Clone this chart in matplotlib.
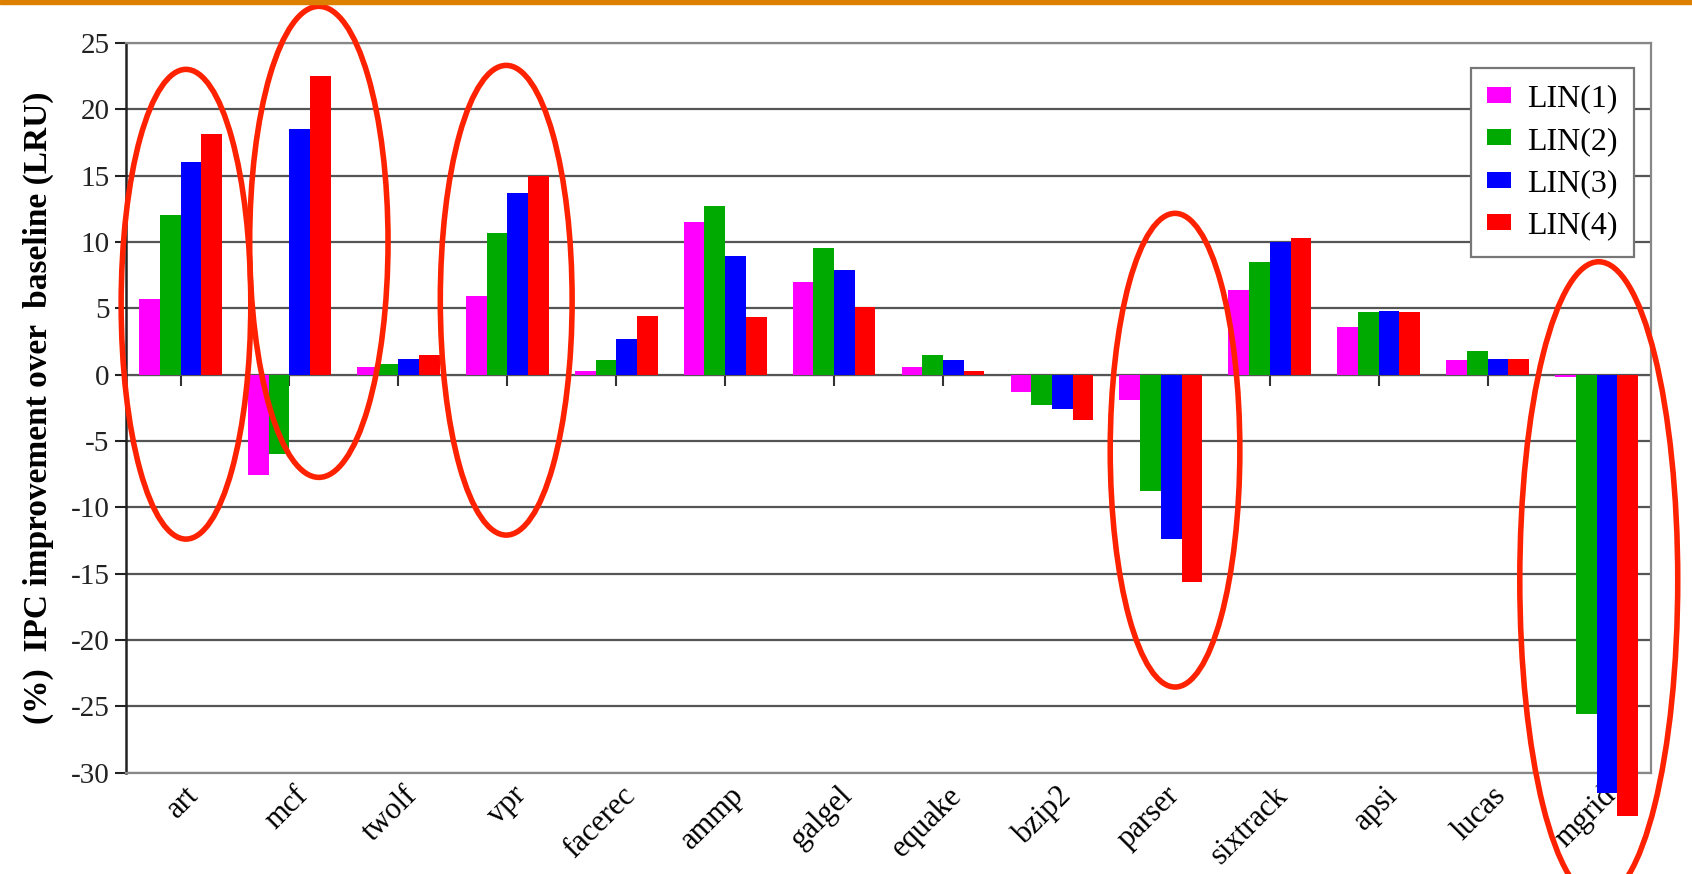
import numpy as np
import matplotlib
matplotlib.use('Agg')
import matplotlib.pyplot as plt
import matplotlib.transforms as mtransforms
from matplotlib.patches import Ellipse, Rectangle

benchmarks = ["art", "mcf", "twolf", "vpr", "facerec", "ammp", "galgel",
              "equake", "bzip2", "parser", "sixtrack", "apsi", "lucas", "mgrid"]
lin1 = [5.7, -7.6, 0.6, 5.9, 0.3, 11.5, 7.0, 0.6, -1.3, -1.9, 6.4, 3.6, 1.1, -0.2]
lin2 = [12.0, -6.0, 0.8, 10.7, 1.1, 12.7, 9.5, 1.5, -2.3, -8.8, 8.5, 4.7, 1.8, -25.6]
lin3 = [16.0, 18.5, 1.2, 13.7, 2.7, 8.9, 7.9, 1.1, -2.6, -12.4, 10.0, 4.8, 1.2, -31.5]
lin4 = [18.1, 22.5, 1.5, 15.0, 4.4, 4.3, 5.1, 0.3, -3.4, -15.6, 10.3, 4.7, 1.2, -33.3]
series = [("LIN(1)", lin1), ("LIN(2)", lin2), ("LIN(3)", lin3), ("LIN(4)", lin4)]
colors = ["#ff00ff", "#00aa00", "#0000ff", "#ff0000"]

# red circles drawn on the slide: (x centre, y centre, width, height)
circles = [(0.05, 5.3, 1.19, 35.4), (1.27, 10.0, 1.27, 35.5),
           (2.99, 5.6, 1.21, 35.4), (9.13, -5.7, 1.19, 35.7),
           (13.02, -15.5, 1.45, 48.0)]

plt.rcParams['font.family'] = ["Liberation Serif", "DejaVu Serif"]
plt.rcParams['axes.unicode_minus'] = False

fig = plt.figure(figsize=(16.92, 8.74), dpi=100)
ax = fig.add_axes([0.0745, 0.116, 0.9013, 0.835])

x = np.arange(len(benchmarks))
w = 0.19
for i, ((name, vals), c) in enumerate(zip(series, colors)):
    ax.bar(x + (i - 1.5) * w, vals, w, color=c, label=name, clip_on=False,
           zorder=3, linewidth=0)

ax.set_xlim(-0.5, len(benchmarks) - 0.5)
ax.set_ylim(-30, 25)
ax.set_yticks(np.arange(-30, 26, 5))
ax.yaxis.grid(True, color="#555555", linewidth=1.6, zorder=0)
ax.set_axisbelow(True)
ax.tick_params(axis='y', direction='out', length=8, width=1.5,
               labelsize=21, colors="#222222", pad=4)
ax.set_xticks(x)
ax.set_xticklabels(benchmarks, rotation=45, ha='right', rotation_mode='anchor',
                   fontsize=22)
ax.tick_params(axis='x', length=0, pad=6)
shift = mtransforms.ScaledTranslation(0.04, 0, fig.dpi_scale_trans)
for lab in ax.get_xticklabels():
    lab.set_transform(lab.get_transform() + shift)

for s in ["top", "right", "bottom"]:
    ax.spines[s].set_color("#888888")
    ax.spines[s].set_linewidth(1.6)
ax.spines["left"].set_color("#222222")
ax.spines["left"].set_linewidth(1.8)

# zero axis with ticks at category centres
sec = ax.secondary_xaxis(30 / 55)
sec.set_xticks(x)
sec.xaxis.set_ticks_position('bottom')
sec.set_xticklabels([])
sec.tick_params(axis='x', direction='out', length=8, width=1.5,
                colors="#333333")
sec.spines["bottom"].set_color("#333333")
sec.spines["bottom"].set_linewidth(2)

ax.set_ylabel("(%)  IPC improvement over  baseline (LRU)", fontsize=24,
              fontweight='bold', labelpad=12)

leg = ax.legend(loc='upper right', bbox_to_anchor=(0.9885, 0.965), fontsize=23,
                fancybox=False, edgecolor="#777777", framealpha=1,
                handlelength=0.75, handleheight=0.4, handletextpad=0.5,
                labelspacing=0.42, borderpad=0.5, borderaxespad=0)
leg.get_frame().set_linewidth(1.6)

for cx, cy, ew, eh in circles:
    ax.add_patch(Ellipse((cx, cy), ew, eh, fill=False, edgecolor="#ff2200",
                         linewidth=4, clip_on=False, zorder=5))

# orange bar on top of slide
fig.add_artist(Rectangle((0, 0.995), 1, 0.005, transform=fig.transFigure,
                         color="#dd7f00", clip_on=False))

fig.savefig("out.png", dpi=100)
